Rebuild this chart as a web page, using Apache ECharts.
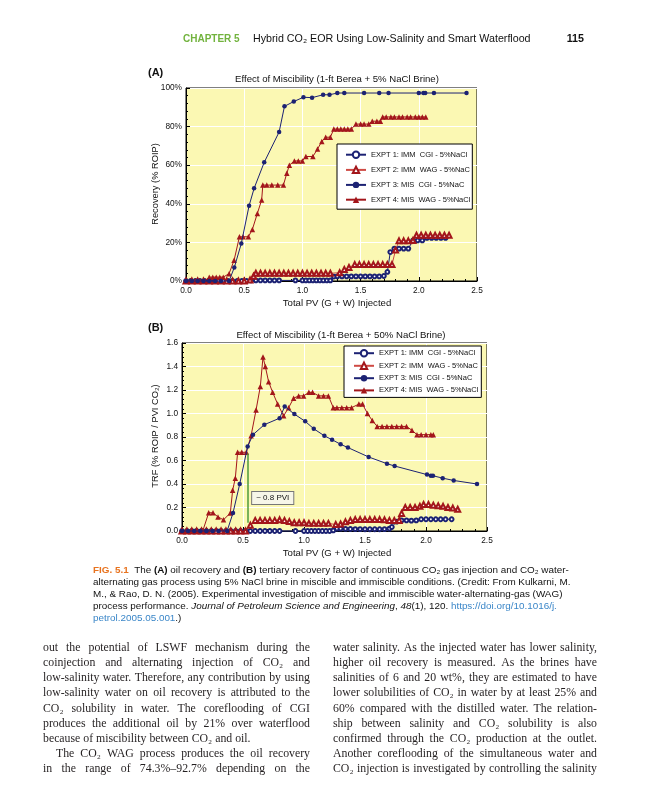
<!DOCTYPE html>
<html><head><meta charset="utf-8">
<script src="https://cdn.jsdelivr.net/npm/echarts@6/dist/echarts.min.js"></script>
<style>html,body{margin:0;padding:0;background:#fff}#c{width:648px;height:800px}</style>
</head><body><div id="c"></div>
<script>
// ---------- DATA ----------
const SERIES_NAMES = ['EXPT 1: IMM  CGI - 5%NaCl', 'EXPT 2: IMM  WAG - 5%NaC', 'EXPT 3: MIS  CGI - 5%NaC', 'EXPT 4: MIS  WAG - 5%NaCl'];
const X_TICKS = [0.0, 0.5, 1.0, 1.5, 2.0, 2.5];
const A_Y_TICKS = [0, 20, 40, 60, 80, 100];
const B_Y_TICKS = [0.0, 0.2, 0.4, 0.6, 0.8, 1.0, 1.2, 1.4, 1.6];

// Chart A: Recovery (% ROIP) vs Total PV
const A_EXPT1 = [[0,0],[0.04,0],[0.08,0],[0.12,0],[0.16,0],[0.2,0],[0.24,0],[0.28,0],[0.32,0],[0.36,0],[0.4,0],[0.44,0],[0.48,0],[0.52,0],[0.56,0.3],[0.6,0.3],[0.64,0.3],[0.68,0.3],[0.72,0.3],[0.76,0.3],[0.8,0.3],[0.94,0.3],[1.0,0.3],[1.03,0.3],[1.06,0.3],[1.09,0.3],[1.12,0.3],[1.15,0.3],[1.18,0.3],[1.21,0.3],[1.24,0.3],[1.27,2.3],[1.3,2.4],[1.34,2.4],[1.38,2.4],[1.42,2.4],[1.46,2.4],[1.5,2.4],[1.54,2.4],[1.58,2.4],[1.62,2.4],[1.66,2.4],[1.7,2.6],[1.73,4.7],[1.755,15],[1.79,16.8],[1.83,16.8],[1.87,16.8],[1.91,16.8],[1.95,21],[1.99,21],[2.03,21],[2.07,22.3],[2.11,22.3],[2.15,22.3],[2.19,22.3],[2.23,22.3]];
const A_EXPT2 = [[0,0],[0.05,0],[0.1,0],[0.15,0],[0.2,0],[0.25,0],[0.3,0],[0.35,0],[0.4,0],[0.45,0],[0.5,0],[0.55,0.5],[0.58,2.5],[0.6,4],[0.64,4],[0.68,4],[0.72,4],[0.76,4],[0.8,4],[0.84,4],[0.88,4],[0.92,4],[0.96,4],[1.0,4],[1.04,4],[1.08,4],[1.12,4],[1.16,4],[1.2,4],[1.24,4],[1.32,4.3],[1.36,6],[1.4,7],[1.45,8.5],[1.49,8.5],[1.53,8.5],[1.57,8.5],[1.61,8.5],[1.65,8.5],[1.69,8.5],[1.73,8.5],[1.77,8.5],[1.8,16],[1.83,20.8],[1.87,20.8],[1.91,20.8],[1.95,21],[1.98,23.7],[2.02,23.7],[2.06,23.7],[2.1,23.7],[2.14,23.7],[2.18,23.7],[2.22,23.7],[2.26,23.7]];
const A_EXPT3 = [[0,0],[0.05,0],[0.1,0],[0.15,0],[0.2,0],[0.25,0],[0.3,0],[0.37,0],[0.415,7],[0.475,19.4],[0.542,39],[0.585,48],[0.672,61.5],[0.8,77.2],[0.846,90.5],[0.926,93],[1.009,95.2],[1.083,95],[1.178,96.5],[1.233,96.5],[1.3,97.4],[1.36,97.4],[1.53,97.4],[1.66,97.4],[1.74,97.4],[2.0,97.4],[2.04,97.4],[2.055,97.4],[2.13,97.4],[2.41,97.4]];
const A_EXPT4 = [[0,0],[0.04,0],[0.08,0],[0.12,0],[0.16,0],[0.2,2],[0.23,2],[0.26,2],[0.29,2],[0.32,2],[0.37,3.8],[0.413,10.7],[0.459,22.9],[0.49,22.9],[0.536,22.9],[0.57,26.7],[0.613,35],[0.65,42],[0.66,49.7],[0.694,49.7],[0.737,49.7],[0.788,49.7],[0.837,49.7],[0.866,55.8],[0.888,60],[0.931,62.2],[0.965,62.2],[1.0,62.2],[1.03,64.5],[1.09,64.5],[1.13,68.4],[1.167,72.3],[1.2,74.5],[1.24,74.5],[1.27,78.7],[1.3,78.7],[1.33,78.7],[1.36,78.7],[1.39,78.7],[1.42,78.7],[1.46,81.3],[1.5,81.3],[1.53,81.3],[1.57,81.3],[1.6,82.8],[1.64,82.8],[1.67,82.8],[1.69,85],[1.72,85],[1.76,85],[1.79,85],[1.83,85],[1.86,85],[1.9,85],[1.93,85],[1.97,85],[2.0,85],[2.03,85],[2.06,85]];

// Chart B: TRF (% ROIP / PVI CO2) vs Total PV
const B_EXPT1 = [[0,0],[0.04,0],[0.08,0],[0.12,0],[0.16,0],[0.2,0],[0.24,0],[0.28,0],[0.32,0],[0.36,0],[0.4,0],[0.44,0],[0.48,0],[0.52,0],[0.56,0],[0.6,0],[0.64,0],[0.68,0],[0.72,0],[0.76,0],[0.8,0],[0.93,0],[1.0,0],[1.03,0],[1.06,0],[1.09,0],[1.12,0],[1.15,0],[1.18,0],[1.21,0],[1.24,0.005],[1.27,0.02],[1.3,0.02],[1.34,0.018],[1.38,0.017],[1.42,0.016],[1.46,0.016],[1.5,0.015],[1.54,0.015],[1.58,0.015],[1.62,0.015],[1.66,0.016],[1.7,0.02],[1.72,0.034],[1.76,0.08],[1.8,0.09],[1.84,0.09],[1.88,0.088],[1.92,0.09],[1.96,0.1],[2.0,0.1],[2.04,0.1],[2.08,0.1],[2.12,0.1],[2.16,0.1],[2.21,0.1]];
const B_EXPT2 = [[0,0],[0.04,0],[0.08,0],[0.12,0],[0.16,0],[0.2,0],[0.24,0],[0.28,0],[0.32,0],[0.36,0],[0.4,0],[0.44,0],[0.48,0],[0.52,0],[0.56,0.05],[0.6,0.09],[0.64,0.09],[0.68,0.09],[0.72,0.09],[0.76,0.09],[0.8,0.095],[0.84,0.09],[0.88,0.08],[0.92,0.07],[0.96,0.07],[1.0,0.07],[1.04,0.065],[1.08,0.065],[1.12,0.065],[1.16,0.065],[1.2,0.065],[1.26,0.055],[1.3,0.06],[1.34,0.078],[1.38,0.09],[1.42,0.097],[1.46,0.097],[1.5,0.097],[1.54,0.097],[1.58,0.097],[1.62,0.097],[1.66,0.095],[1.7,0.09],[1.74,0.09],[1.78,0.09],[1.8,0.15],[1.83,0.2],[1.87,0.2],[1.91,0.2],[1.95,0.21],[1.98,0.225],[2.02,0.225],[2.06,0.22],[2.1,0.215],[2.14,0.21],[2.18,0.2],[2.22,0.195],[2.26,0.185]];
const B_EXPT3 = [[0,0],[0.05,0],[0.1,0],[0.15,0],[0.2,0],[0.25,0],[0.3,0],[0.37,0],[0.418,0.153],[0.473,0.40],[0.538,0.72],[0.582,0.82],[0.675,0.905],[0.80,0.96],[0.842,1.06],[0.921,0.995],[1.01,0.933],[1.08,0.87],[1.167,0.81],[1.23,0.777],[1.30,0.738],[1.36,0.71],[1.53,0.63],[1.68,0.573],[1.743,0.553],[2.008,0.48],[2.04,0.47],[2.057,0.47],[2.137,0.45],[2.227,0.43],[2.418,0.40]];
const B_EXPT4 = [[0,0],[0.04,0],[0.08,0],[0.12,0],[0.17,0],[0.219,0.155],[0.254,0.155],[0.295,0.12],[0.34,0.095],[0.396,0.153],[0.415,0.346],[0.437,0.45],[0.456,0.67],[0.49,0.67],[0.527,0.67],[0.566,0.81],[0.607,1.03],[0.642,1.23],[0.664,1.48],[0.683,1.40],[0.71,1.27],[0.743,1.18],[0.784,1.08],[0.833,0.98],[0.874,1.05],[0.915,1.13],[0.956,1.15],[0.997,1.15],[1.04,1.18],[1.07,1.18],[1.12,1.15],[1.16,1.15],[1.2,1.15],[1.24,1.05],[1.27,1.05],[1.31,1.05],[1.35,1.05],[1.39,1.05],[1.45,1.08],[1.48,1.08],[1.52,1.0],[1.56,0.94],[1.60,0.89],[1.64,0.89],[1.68,0.89],[1.72,0.89],[1.76,0.89],[1.8,0.89],[1.84,0.89],[1.885,0.857],[1.926,0.82],[1.96,0.82],[2.0,0.82],[2.04,0.82],[2.06,0.82]];

// Annotation in chart B (data units)
const B_ARROW = [[0.538, 0.66], [0.538, 0.07]];
const B_NOTE = { text: '~ 0.8 PVI', at: [0.575, 0.28] };

// ---------- PAGE TEXT ----------
const HEADER_CHAPTER = 'CHAPTER 5';
const HEADER_TITLE = 'Hybrid CO\u2082 EOR Using Low-Salinity and Smart Waterflood';
const HEADER_PAGE = '115';
const TITLE_A = 'Effect of Miscibility (1-ft Berea + 5% NaCl Brine)';
const TITLE_B = 'Effect of Miscibility (1-ft Berea + 50% NaCl Brine)';
const XNAME = 'Total PV (G + W) Injected';
const YNAME_A = 'Recovery (% ROIP)';
const YNAME_B = 'TRF (% ROIP / PVI CO\u2082)';
const CAPTION = [
  '{o|FIG. 5.1}  The {b|(A)} oil recovery and {b|(B)} tertiary recovery factor of continuous CO\u2082 gas injection and CO\u2082 water-',
  'alternating gas process using 5% NaCl brine in miscible and immiscible conditions. (Credit: From Kulkarni, M.',
  'M., & Rao, D. N. (2005). Experimental investigation of miscible and immiscible water-alternating-gas (WAG)',
  'process performance. {i|Journal of Petroleum Science and Engineering}, {i|48}(1), 120. {l|https://doi.org/10.1016/j.}',
  '{l|petrol.2005.05.001}.)'
];
const BODY_LEFT = [
  ['out the potential of LSWF mechanism during the', 1, 0],
  ['coinjection and alternating injection of CO\u2082 and', 1, 0],
  ['low-salinity water. Therefore, any contribution by using', 1, 0],
  ['low-salinity water on oil recovery is attributed to the', 1, 0],
  ['CO\u2082 solubility in water. The coreflooding of CGI', 1, 0],
  ['produces the additional oil by 21% over waterflood', 1, 0],
  ['because of miscibility between CO\u2082 and oil.', 0, 0],
  ['The CO\u2082 WAG process produces the oil recovery', 1, 1],
  ['in the range of 74.3%\u201392.7% depending on the', 1, 0]
];
const BODY_RIGHT = [
  ['water salinity. As the injected water has lower salinity,', 1, 0],
  ['higher oil recovery is measured. As the brines have', 1, 0],
  ['salinities of 6 and 20 wt%, they are estimated to have', 1, 0],
  ['lower solubilities of CO\u2082 in water by at least 25% and', 1, 0],
  ['60% compared with the distilled water. The relation-', 1, 0],
  ['ship between salinity and CO\u2082 solubility is also', 1, 0],
  ['confirmed through the CO\u2082 production at the outlet.', 1, 0],
  ['Another coreflooding of the simultaneous water and', 1, 0],
  ['CO\u2082 injection is investigated by controlling the salinity', 1, 0]
];

// ---------- STYLE ----------
const SANS = '"Liberation Sans", Arial, sans-serif';
const SERIF = '"Liberation Serif", "DejaVu Serif", serif';
const NAVY = '#1c2273';
const DRED = '#a3161b';
const LRED = '#cf4a44';
const PLOT_BG = '#fbf8b3';

const chart = echarts.init(document.getElementById('c'), null, { renderer: 'canvas' });

function axisX(gi) {
  return {
    type: 'value', gridIndex: gi, min: X_TICKS[0], max: X_TICKS[X_TICKS.length - 1],
    interval: X_TICKS[1] - X_TICKS[0],
    axisLine: { show: true, lineStyle: { color: '#000', width: 1 } },
    axisTick: { show: true, inside: true, length: 4, lineStyle: { color: '#000' } },
    minorTick: { show: true, splitNumber: 5, length: 2, lineStyle: { color: '#000' } },
    splitLine: { show: true, lineStyle: { color: '#ffffff', width: 1 } },
    axisLabel: { fontSize: 8.3, fontFamily: SANS, color: '#111', margin: 6,
      formatter: v => X_TICKS.indexOf(v) >= 0 ? v.toFixed(1) : '' }
  };
}
function axisY(gi, ticks, fmt) {
  return {
    type: 'value', gridIndex: gi, min: ticks[0], max: ticks[ticks.length - 1],
    interval: ticks[1] - ticks[0],
    axisLine: { show: true, lineStyle: { color: '#000', width: 1 } },
    axisTick: { show: true, inside: true, length: 4, lineStyle: { color: '#000' } },
    minorTick: { show: true, splitNumber: 5, length: 2, lineStyle: { color: '#000' } },
    splitLine: { show: true, lineStyle: { color: '#ffffff', width: 1 } },
    axisLabel: { fontSize: 8.3, fontFamily: SANS, color: '#111', margin: 4, formatter: fmt }
  };
}
function mkSeries(gi, name, data, kind, extra) {
  const base = {
    name, type: 'line', xAxisIndex: gi, yAxisIndex: gi, data,
    animation: false, clip: false, showSymbol: true, silent: true
  };
  if (kind === 1) Object.assign(base, { symbol: 'emptyCircle', symbolSize: 3.8, z: 2,
    itemStyle: { color: NAVY, borderColor: NAVY, borderWidth: 1 }, lineStyle: { color: NAVY, width: 1 } });
  if (kind === 2) Object.assign(base, { symbol: 'emptyTriangle', symbolSize: 5, z: 2,
    itemStyle: { color: DRED, borderColor: DRED, borderWidth: 0.9 }, lineStyle: { color: LRED, width: 1 } });
  if (kind === 3) Object.assign(base, { symbol: 'circle', symbolSize: 4.5, z: 4,
    itemStyle: { color: NAVY }, lineStyle: { color: NAVY, width: 1 } });
  if (kind === 4) Object.assign(base, { symbol: 'triangle', symbolSize: 5.5, z: 3,
    itemStyle: { color: DRED }, lineStyle: { color: DRED, width: 1 } });
  return Object.assign(base, extra || {});
}
function legendAt(left, top, pad, gap) {
  return {
    data: SERIES_NAMES, orient: 'vertical', left, top, padding: pad, itemGap: gap,
    itemWidth: 20, itemHeight: 8, backgroundColor: '#fff', borderColor: '#000', borderWidth: 1,
    borderRadius: 0, selectedMode: false,
    textStyle: { fontSize: 7.5, fontFamily: SANS, color: '#111', padding: [0, 0, 0, 0] }
  };
}

// ---------- page graphics ----------
const G = [];
function txt(x, y, text, font, fill, align, extra) {
  G.push(Object.assign({ type: 'text', x, y, silent: true,
    style: { text, font, fill: fill || '#111', textAlign: align || 'left', textVerticalAlign: 'middle' } }, extra || {}));
}
txt(183, 39, HEADER_CHAPTER, 'bold 10px ' + SANS, '#72b33e');
txt(253, 39, HEADER_TITLE, '10.7px ' + SANS, '#111');
txt(584, 39, HEADER_PAGE, 'bold 10.7px ' + SANS, '#111', 'right');
txt(148, 73, '(A)', 'bold 11px ' + SANS, '#111');
txt(148, 328, '(B)', 'bold 11px ' + SANS, '#111');
txt(337, 79, TITLE_A, '9.6px ' + SANS, '#111', 'center');
txt(341, 335, TITLE_B, '9.6px ' + SANS, '#111', 'center');
txt(337, 303, XNAME, '9.6px ' + SANS, '#111', 'center');
txt(337, 553, XNAME, '9.6px ' + SANS, '#111', 'center');
txt(155, 184, YNAME_A, '9.3px ' + SANS, '#111', 'center', { rotation: Math.PI / 2 });
txt(155, 436, YNAME_B, '9.3px ' + SANS, '#111', 'center', { rotation: Math.PI / 2 });

const CAP_FS = 9.9;
const capRich = {
  o: { fill: '#e8731f', fontWeight: 'bold', fontSize: CAP_FS, fontFamily: SANS },
  b: { fill: '#111', fontWeight: 'bold', fontSize: CAP_FS, fontFamily: SANS },
  i: { fill: '#111', fontStyle: 'italic', fontSize: CAP_FS, fontFamily: SANS },
  l: { fill: '#3a86c8', fontSize: CAP_FS, fontFamily: SANS }
};
CAPTION.forEach((line, k) => {
  G.push({ type: 'text', x: 93, y: 570 + k * 12.1, silent: true,
    style: { text: line, fontSize: CAP_FS, fontFamily: SANS, fill: '#111', textAlign: 'left',
      textVerticalAlign: 'middle', rich: capRich } });
});

const BODY_FONT = '11.8px ' + SERIF;
const mctx = document.createElement('canvas').getContext('2d');
function bodyColumn(lines, x0, width, y0, lh) {
  mctx.font = BODY_FONT;
  lines.forEach((ln, k) => {
    const [text, justify, indent] = ln;
    const x = x0 + (indent ? 13 : 0);
    const w = width - (indent ? 13 : 0);
    const y = y0 + k * lh;
    if (!justify) { txt(x, y, text, BODY_FONT, '#231f20'); return; }
    const words = text.split(' ');
    const ws = words.map(s => mctx.measureText(s).width);
    const tot = ws.reduce((a, b) => a + b, 0);
    const gap = Math.max(1.5, (w - tot) / (words.length - 1));
    let cx = x;
    words.forEach((s, i) => { txt(cx, y, s, BODY_FONT, '#231f20'); cx += ws[i] + gap; });
  });
}
bodyColumn(BODY_LEFT, 43, 267, 648, 15.1);
bodyColumn(BODY_RIGHT, 333, 264, 648, 15.1);

const option = {
  backgroundColor: '#fff',
  animation: false,
  grid: [
    { left: 186, top: 88, width: 291, height: 193, show: true, backgroundColor: PLOT_BG, borderColor: '#000', borderWidth: 1 },
    { left: 182, top: 343, width: 305, height: 188, show: true, backgroundColor: PLOT_BG, borderColor: '#000', borderWidth: 1 }
  ],
  xAxis: [axisX(0), axisX(1)],
  yAxis: [axisY(0, A_Y_TICKS, v => A_Y_TICKS.indexOf(v) >= 0 ? v + '%' : ''),
          axisY(1, B_Y_TICKS, v => v.toFixed(1))],
  legend: [legendAt(337, 144, [6.5, 2, 5.5, 8], 6.8), legendAt(344, 346, [3, 3, 3, 9], 4.2)],
  series: [
    mkSeries(0, SERIES_NAMES[0], A_EXPT1, 1),
    mkSeries(0, SERIES_NAMES[1], A_EXPT2, 2),
    mkSeries(0, SERIES_NAMES[2], A_EXPT3, 3),
    mkSeries(0, SERIES_NAMES[3], A_EXPT4, 4),
    mkSeries(1, SERIES_NAMES[0], B_EXPT1, 1),
    mkSeries(1, SERIES_NAMES[1], B_EXPT2, 2),
    mkSeries(1, SERIES_NAMES[2], B_EXPT3, 3, {
      markLine: { silent: true, symbol: ['none', 'arrow'], symbolSize: [0, 7], animation: false,
        lineStyle: { color: '#4e9a3c', width: 1.5, type: 'solid' }, label: { show: false },
        data: [[{ coord: B_ARROW[0] }, { coord: B_ARROW[1] }]] },
      markPoint: { silent: true, symbol: 'rect', symbolSize: 0, animation: false,
        data: [{ coord: B_NOTE.at, value: 0 }],
        label: { show: true, position: 'right', distance: 0, formatter: B_NOTE.text, fontSize: 8,
          fontFamily: SANS, color: '#111', backgroundColor: '#f7f6e8', borderColor: '#777',
          borderWidth: 1, padding: [2, 4, 2, 4] } }
    }),
    mkSeries(1, SERIES_NAMES[3], B_EXPT4, 4)
  ],
  graphic: { elements: G }
};
chart.setOption(option);
</script></body></html>
